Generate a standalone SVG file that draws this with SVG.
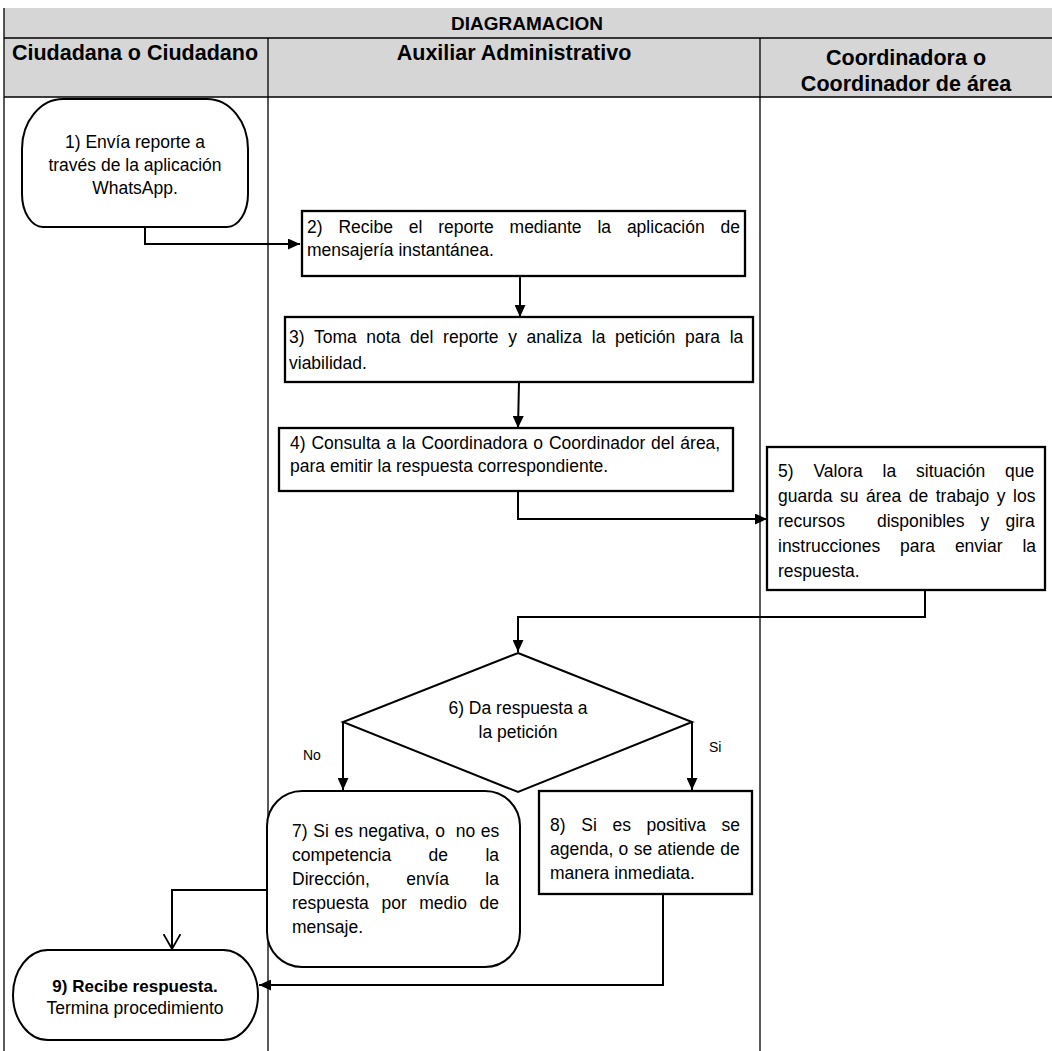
<svg xmlns="http://www.w3.org/2000/svg" width="1052" height="1051" viewBox="0 0 1052 1051">
<defs>
<marker id="arr" markerUnits="userSpaceOnUse" markerWidth="12" markerHeight="11" refX="12" refY="5.5" orient="auto">
<path d="M0,0 L12,5.5 L0,11 z" fill="#000"/>
</marker>
<marker id="open" markerUnits="userSpaceOnUse" markerWidth="18" markerHeight="18" refX="15" refY="8.5" orient="auto">
<path d="M0,0 L15,8.5 L0,17" fill="none" stroke="#000" stroke-width="1.8"/>
</marker>
</defs>
<style>
.hdr{fill:#d6d6d6}
.grid{stroke:#000;stroke-width:1.3;fill:none}
.h{font-family:"Liberation Sans",Arial,sans-serif;font-size:21.5px;font-weight:bold;fill:#000}
.ti{font-family:"Liberation Sans",Arial,sans-serif;font-size:19px;font-weight:bold;fill:#000}
.t{font-family:"Liberation Sans",Arial,sans-serif;font-size:17.5px;fill:#000}
.tb{font-family:"Liberation Sans",Arial,sans-serif;font-size:17px;font-weight:bold;fill:#000}
.s{font-family:"Liberation Sans",Arial,sans-serif;font-size:14px;fill:#000}
.box{fill:#fff;stroke:#000;stroke-width:2.3}
.rnd{fill:#fff;stroke:#000;stroke-width:2}
.c{fill:none;stroke:#000;stroke-width:2}
</style>
<rect width="1052" height="1051" fill="#fff"/>
<g id="table">
<rect class="hdr" x="4" y="8" width="1048" height="89"/>
<line class="grid" x1="4" y1="38" x2="1052" y2="38"/>
<line class="grid" x1="4" y1="97" x2="1052" y2="97"/>
<line class="grid" x1="4" y1="8" x2="4" y2="1051"/>
<line class="grid" x1="268" y1="38" x2="268" y2="1051"/>
<line class="grid" x1="760" y1="38" x2="760" y2="1051"/>
<text class="ti" x="527" y="30" text-anchor="middle">DIAGRAMACION</text>
<text class="h" x="135" y="60" text-anchor="middle">Ciudadana o Ciudadano</text>
<text class="h" x="514" y="60" text-anchor="middle">Auxiliar Administrativo</text>
<text class="h" x="906" y="65" text-anchor="middle">Coordinadora o</text>
<text class="h" x="906" y="91" text-anchor="middle">Coordinador de área</text>
</g>
<g id="connectors">
<path class="c" d="M145,227 V244 H300" marker-end="url(#arr)"/>
<path class="c" d="M520,276 V317" marker-end="url(#arr)"/>
<path class="c" d="M519,382 L518,428" marker-end="url(#arr)"/>
<path class="c" d="M518,491 V519 H767" marker-end="url(#arr)"/>
<path class="c" d="M925,589 V617 H518 V652" marker-end="url(#arr)"/>
<path class="c" d="M343,722 V790" marker-end="url(#arr)"/>
<path class="c" d="M692,722 V790" marker-end="url(#arr)"/>
<path class="c" d="M267,890 H172 V949" marker-end="url(#open)"/>
<path class="c" d="M663,894 V985 H259" marker-end="url(#arr)"/>
<text class="s" x="303" y="760">No</text>
<text class="s" x="709" y="752">Si</text>
</g>
<g id="n1">
<path class="rnd" d="M63,99 H207 A41,50 0 0 1 248,149 V194 A21,33 0 0 1 227,227 H43 A21,33 0 0 1 22,194 V149 A41,50 0 0 1 63,99 Z"/>
<text class="t" x="135" y="148" text-anchor="middle">1) Envía reporte a</text>
<text class="t" x="135" y="171" text-anchor="middle">través de la aplicación</text>
<text class="t" x="135" y="194" text-anchor="middle">WhatsApp.</text>
</g>
<g id="n2">
<rect class="box" x="302" y="211" width="443" height="65"/>
<text class="t" x="307" y="233" word-spacing="11">2) Recibe el reporte mediante la aplicación de</text>
<text class="t" x="307" y="256">mensajería instantánea.</text>
</g>
<g id="n3">
<rect class="box" x="285" y="317" width="468" height="65"/>
<text class="t" x="289" y="343" word-spacing="4.8">3) Toma nota del reporte y analiza la petición para la</text>
<text class="t" x="289" y="369">viabilidad.</text>
</g>
<g id="n4">
<rect class="box" x="279" y="428" width="454" height="63"/>
<text class="t" x="290" y="449" word-spacing="1">4) Consulta a la Coordinadora o Coordinador del área,</text>
<text class="t" x="290" y="472">para emitir la respuesta correspondiente.</text>
</g>
<g id="n5">
<rect class="box" x="767" y="447" width="278" height="143"/>
<text class="t" x="778" y="477" word-spacing="15">5) Valora la situación que</text>
<text class="t" x="778" y="502" word-spacing="2.7">guarda su área de trabajo y los</text>
<text class="t" y="527" word-spacing="11.2"><tspan x="778">recursos</tspan><tspan x="877">disponibles y gira</tspan></text>
<text class="t" x="778" y="552" word-spacing="15">instrucciones para enviar la</text>
<text class="t" x="778" y="577">respuesta.</text>
</g>
<g id="n6">
<polygon class="rnd" points="518,653 692,722 518,792 343,722"/>
<text class="t" x="518" y="714" text-anchor="middle">6) Da respuesta a</text>
<text class="t" x="518" y="738" text-anchor="middle">la petición</text>
</g>
<g id="n7">
<rect class="rnd" x="267" y="791" width="253" height="176" rx="35" ry="35"/>
<text class="t" x="292" y="837" word-spacing="0.8">7) Si es negativa, o <tspan dx="5">no es</tspan></text>
<text class="t" x="292" y="861" word-spacing="32.5">competencia de la</text>
<text class="t" x="292" y="885" word-spacing="31.5">Dirección, envía la</text>
<text class="t" x="292" y="909" word-spacing="7.7">respuesta por medio de</text>
<text class="t" x="292" y="933">mensaje.</text>
</g>
<g id="n8">
<rect class="box" x="539" y="791" width="213" height="103"/>
<text class="t" x="550" y="831" word-spacing="10.8">8) Si es positiva se</text>
<text class="t" x="550" y="855" word-spacing="0.5">agenda, o se atiende de</text>
<text class="t" x="550" y="879">manera inmediata.</text>
</g>
<g id="n9">
<path class="rnd" d="M48,950 H223 A35,45 0 0 1 223,1040 H48 A35,45 0 0 1 48,950 Z"/>
<text class="tb" x="135" y="992" text-anchor="middle">9) Recibe respuesta.</text>
<text class="t" x="135" y="1014" text-anchor="middle">Termina procedimiento</text>
</g>
</svg>
